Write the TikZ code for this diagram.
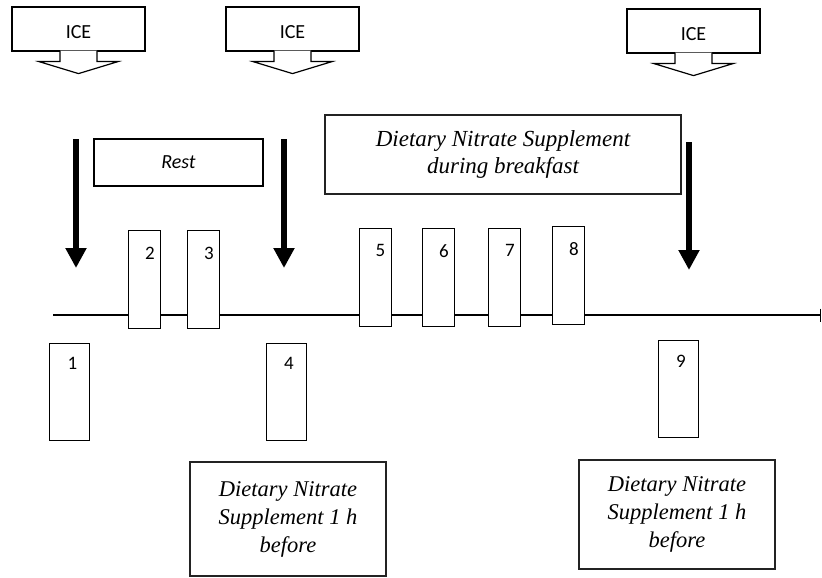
\documentclass[tikz,border=0pt]{standalone}
\usepackage{fontspec}
\setmainfont{Liberation Serif}
\newfontfamily\calibri{Carlito}
\usetikzlibrary{arrows.meta}
\definecolor{boxink}{RGB}{35, 35, 35}

\begin{document}
\begin{tikzpicture}[x=1pt, y=-1pt,
  icebox/.style={draw, line width=1.2pt, minimum width=133pt, minimum height=44pt,
    text height=20pt, font=\calibri\fontsize{20}{24}\selectfont},
  drop/.style={line width=5.5pt, -{Triangle[width=20pt, length=20pt]}},
  numlab/.style={font=\calibri\fontsize{19}{22}\selectfont, inner sep=0pt},
  upbox/.style={draw, fill=white, line width=1pt, minimum width=32pt, minimum height=98pt,
    inner sep=0pt, label={[numlab, anchor=north, xshift=-11pt, yshift=-17pt]north east:#1}},
  lowbox/.style={draw, line width=1pt, minimum width=40pt, minimum height=97pt,
    inner sep=0pt, label={[numlab, anchor=north, xshift=3pt, yshift=-15pt]north:#1}},
  notebox/.style={draw=boxink, line width=1.3pt, align=center,
    font=\itshape\fontsize{22.5}{28}\selectfont}]
  \useasboundingbox (0,0) rectangle (822,578);

  \foreach \n/\cx/\cy in {1/78.5/29, 2/292.5/29, 3/693.5/31} {
    \node[icebox] (ice\n) at (\cx,\cy) {ICE};
    \draw[line width=1.2pt, fill=white] ([xshift=-18.5pt, yshift=1pt]ice\n.south) -- ++(0,11)
      -- ++(-21,0) -- ++(39.5,12) -- ++(39.5,-12) -- ++(-21,0) -- ++(0,-11);
  }

  \foreach \n/\x/\ya/\yb in {1/76/139/268, 2/284/139/268, 3/689/142/270}
    \draw[drop] (\x,\ya) coordinate (top\n) -- (\x,\yb) coordinate (tip\n);

  \node[draw, line width=1.2pt, minimum width=169pt, minimum height=47pt,
    font=\calibri\itshape\fontsize{20}{24}\selectfont] (rest) at (178.5,162.5) {Rest};
  \node[notebox, minimum width=356pt, minimum height=79pt,
    font=\itshape\fontsize{23}{27}\selectfont] (bfast) at (503,154.5)
    {Dietary Nitrate Supplement\\during breakfast};

  \draw[line width=1.3pt, -{Bar[width=13pt, line width=1.5pt]}]
    (53,315) coordinate (t0) -- (821,315) coordinate (t1);

  \foreach \n/\x/\y in {2/144.5/279, 3/203.5/279, 5/375/277, 6/438.5/277, 7/504.5/277, 8/568.5/275}
    \node[upbox=\n] (s\n) at (\x,\y) {};
  \foreach \n/\x/\y in {1/69.5/391.5, 4/286/391.5, 9/678/389}
    \node[lowbox=\n] (s\n) at (\x,\y) {};

  \node[notebox, minimum width=196pt, minimum height=114pt] (preA) at (288,519)
    {Dietary Nitrate\\Supplement 1 h\\before};
  \node[notebox, minimum width=196pt, minimum height=109pt] (preB) at (677,514.5)
    {Dietary Nitrate\\Supplement 1 h\\before};
\end{tikzpicture}
\end{document}
